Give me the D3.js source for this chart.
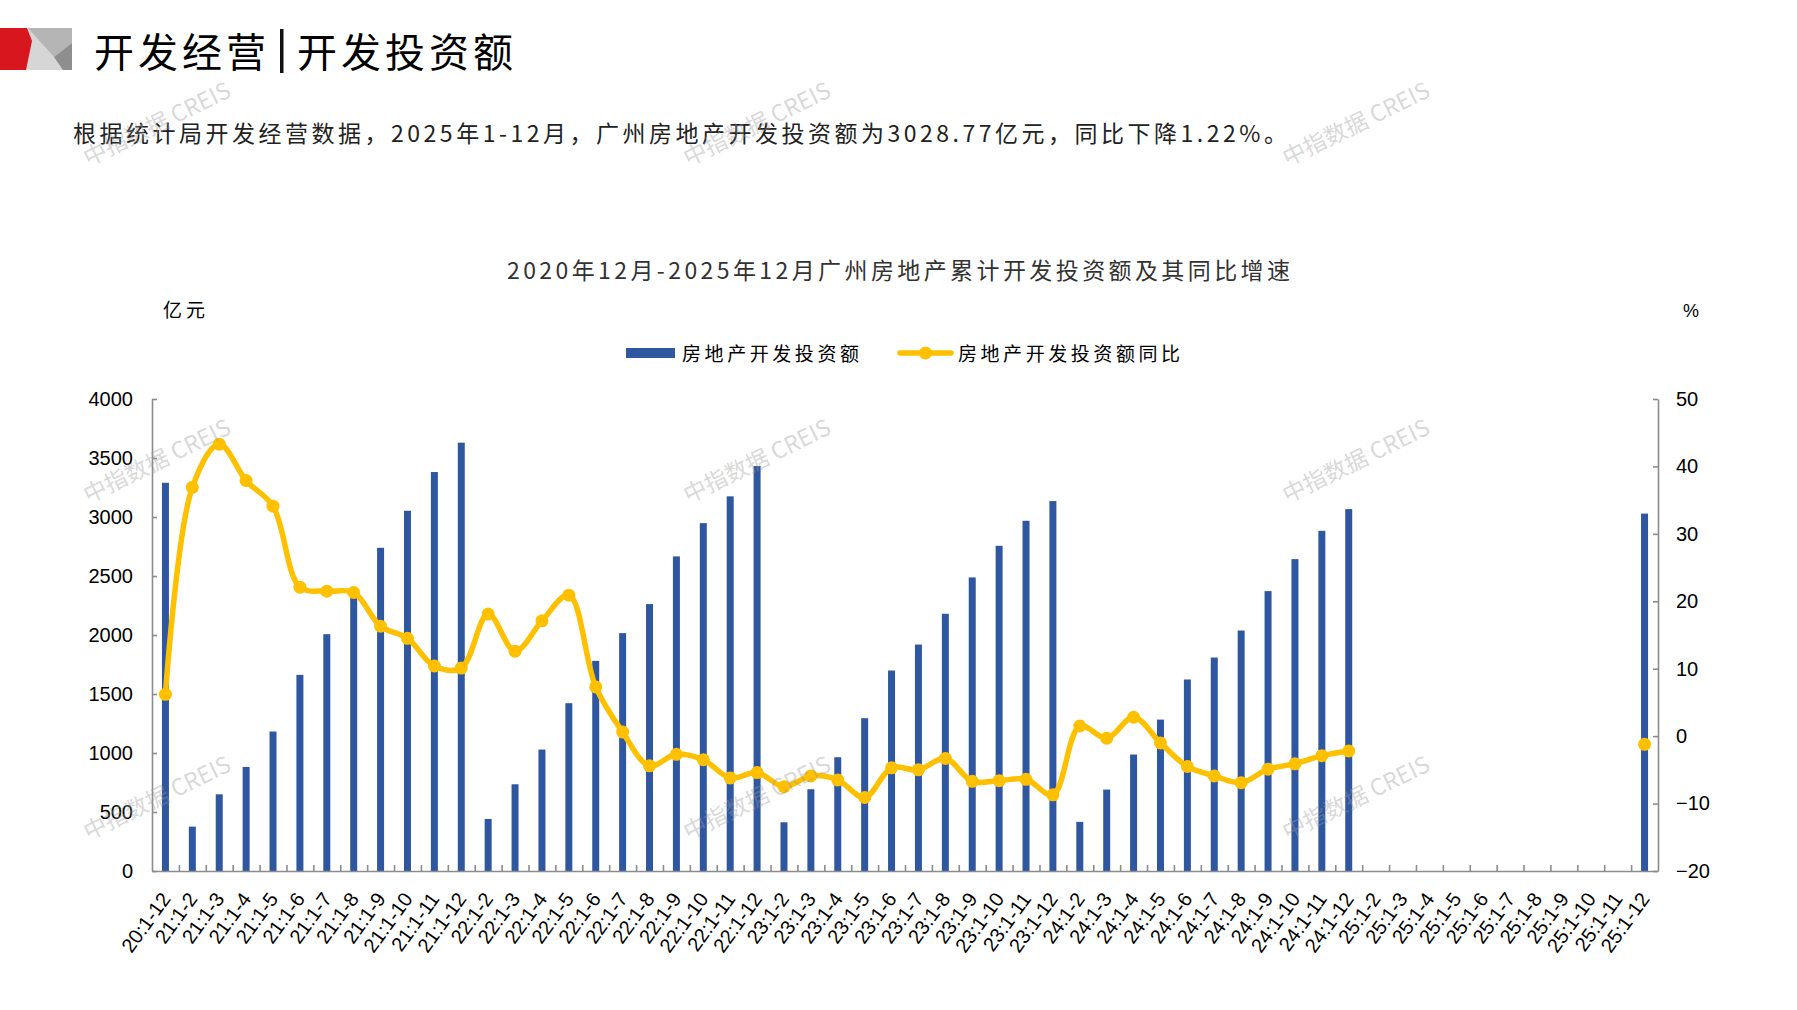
<!DOCTYPE html>
<html>
<head>
<meta charset="utf-8">
<script src="https://cdn.jsdelivr.net/npm/d3@7"></script>
<style>
  body { margin: 0; background: #fff; }
  svg { display: block; }
</style>
</head>
<body>
<main></main>
<script>
const w = 1797;
const h = 1010;
const plot = { left: 152, right: 1658, top: 399, bottom: 871 };

const categories = [
    "20:1-12",
    "21:1-2", "21:1-3", "21:1-4", "21:1-5", "21:1-6", "21:1-7", "21:1-8", "21:1-9", "21:1-10", "21:1-11", "21:1-12",
    "22:1-2", "22:1-3", "22:1-4", "22:1-5", "22:1-6", "22:1-7", "22:1-8", "22:1-9", "22:1-10", "22:1-11", "22:1-12",
    "23:1-2", "23:1-3", "23:1-4", "23:1-5", "23:1-6", "23:1-7", "23:1-8", "23:1-9", "23:1-10", "23:1-11", "23:1-12",
    "24:1-2", "24:1-3", "24:1-4", "24:1-5", "24:1-6", "24:1-7", "24:1-8", "24:1-9", "24:1-10", "24:1-11", "24:1-12",
    "25:1-2", "25:1-3", "25:1-4", "25:1-5", "25:1-6", "25:1-7", "25:1-8", "25:1-9", "25:1-10", "25:1-11", "25:1-12"
];

// 房地产开发投资额 (亿元)
const investment = [
    3290,
    376, 650, 882, 1182, 1662, 2007, 2330, 2739, 3053, 3381, 3630,
    441, 735, 1029, 1422, 1781, 2016, 2262, 2666, 2948, 3175, 3432,
    413, 693, 964, 1295, 1699, 1919, 2180, 2488, 2756, 2968, 3135,
    416, 690, 987, 1283, 1623, 1809, 2038, 2372, 2643, 2883, 3067,
    null, null, null, null, null, null, null, null, null, null, 3028.77
];

// 房地产开发投资额同比 (%)
const yoy = [
    6.2,
    36.9, 43.3, 37.9, 34.1, 22.1, 21.5, 21.3, 16.3, 14.5, 10.4, 10.1,
    18.1, 12.6, 17.1, 20.9, 7.3, 0.6, -4.4, -2.7, -3.5, -6.2, -5.4,
    -7.5, -5.9, -6.5, -9.1, -4.7, -5.0, -3.3, -6.7, -6.6, -6.4, -8.7,
    1.5, -0.3, 2.8, -1.0, -4.5, -5.9, -6.9, -4.9, -4.1, -2.9, -2.2,
    null, null, null, null, null, null, null, null, null, null, -1.22
];

const leftTicks = [0, 500, 1000, 1500, 2000, 2500, 3000, 3500, 4000];
const rightTicks = [-20, -10, 0, 10, 20, 30, 40, 50];

const blue = "#2f57a0";
const gold = "#ffc000";
const axisGray = "#8c8c8c";
const cjk = "'Noto Sans CJK SC', sans-serif";
const latin = "'Liberation Sans', Arial, sans-serif";

const svg = d3.select("main")
    .append("svg")
    .attr("width", w)
    .attr("height", h);

svg.append("rect").attr("width", w).attr("height", h).attr("fill", "#fff");

// header logo
const logo = svg.append("g");
logo.append("polygon").attr("points", "25,28 72,28 72,70 25,70").attr("fill", "#d6d6d6");
logo.append("polygon").attr("points", "28,28 72,28 72,43 54,57").attr("fill", "#b5b5b5");
logo.append("polygon").attr("points", "54,57 72,43 72,70 63,70").attr("fill", "#8e8e8e");
logo.append("polygon").attr("points", "0,28 27,28 32,41 26,70 0,70").attr("fill", "#d7161d");

svg.append("text")
    .attr("x", 94).attr("y", 67)
    .attr("font-family", cjk).attr("font-size", 40)
    .attr("textLength", 172).attr("lengthAdjust", "spacing")
    .text("开发经营");
svg.append("rect").attr("x", 280).attr("y", 29).attr("width", 3.5).attr("height", 44).attr("fill", "#111");
svg.append("text")
    .attr("x", 297).attr("y", 67)
    .attr("font-family", cjk).attr("font-size", 40)
    .attr("textLength", 216).attr("lengthAdjust", "spacing")
    .text("开发投资额");

svg.append("text")
    .attr("x", 73).attr("y", 142)
    .attr("font-family", cjk).attr("font-size", 23).attr("fill", "#222")
    .attr("textLength", 1214).attr("lengthAdjust", "spacing")
    .text("根据统计局开发经营数据，2025年1-12月，广州房地产开发投资额为3028.77亿元，同比下降1.22%。");

// chart title
svg.append("text")
    .attr("x", 507).attr("y", 279)
    .attr("font-family", cjk).attr("font-size", 23).attr("fill", "#333")
    .attr("textLength", 783).attr("lengthAdjust", "spacing")
    .text("2020年12月-2025年12月广州房地产累计开发投资额及其同比增速");

svg.append("text")
    .attr("x", 163).attr("y", 317)
    .attr("font-family", cjk).attr("font-size", 19)
    .attr("textLength", 42).attr("lengthAdjust", "spacing")
    .text("亿元");
svg.append("text")
    .attr("x", 1683).attr("y", 317)
    .attr("font-family", latin).attr("font-size", 18)
    .text("%");

// legend
svg.append("rect").attr("x", 626).attr("y", 348).attr("width", 49).attr("height", 10).attr("fill", blue);
svg.append("text")
    .attr("x", 682).attr("y", 361)
    .attr("font-family", cjk).attr("font-size", 19)
    .attr("textLength", 177).attr("lengthAdjust", "spacing")
    .text("房地产开发投资额");
svg.append("line")
    .attr("x1", 900).attr("x2", 951).attr("y1", 353).attr("y2", 353)
    .attr("stroke", gold).attr("stroke-width", 5.5).attr("stroke-linecap", "round");
svg.append("circle").attr("cx", 925.5).attr("cy", 353).attr("r", 6.5).attr("fill", gold);
svg.append("text")
    .attr("x", 958).attr("y", 361)
    .attr("font-family", cjk).attr("font-size", 19)
    .attr("textLength", 222).attr("lengthAdjust", "spacing")
    .text("房地产开发投资额同比");

// scales
const xScale = d3.scaleBand()
    .domain(categories)
    .range([plot.left, plot.right])
    .paddingInner(0.74)
    .paddingOuter(0.37);

const center = d => xScale(d) + xScale.bandwidth() / 2;

const yLeft = d3.scaleLinear().domain([0, 4000]).range([plot.bottom, plot.top]);
const yRight = d3.scaleLinear().domain([-20, 50]).range([plot.bottom, plot.top]);

// bars
svg.append("g")
    .selectAll("rect")
    .data(categories.map((c, i) => ({ c, v: investment[i] })).filter(d => d.v != null))
    .enter()
    .append("rect")
    .attr("x", d => xScale(d.c))
    .attr("y", d => yLeft(d.v))
    .attr("width", xScale.bandwidth())
    .attr("height", d => plot.bottom - yLeft(d.v))
    .attr("fill", blue);

// axes
const leftAxis = svg.append("g")
    .attr("transform", "translate(" + plot.left + ",0)")
    .call(d3.axisLeft(yLeft).tickValues(leftTicks).tickFormat(d3.format("d"))
        .tickSizeInner(-5).tickSizeOuter(0).tickPadding(19));

const rightAxis = svg.append("g")
    .attr("transform", "translate(" + plot.right + ",0)")
    .call(d3.axisRight(yRight).tickValues(rightTicks).tickSizeInner(-5).tickSizeOuter(0).tickPadding(18));

const boundary = d3.scaleLinear().domain([0, categories.length]).range([plot.left, plot.right]);
const bottomAxis = svg.append("g")
    .attr("transform", "translate(0," + plot.bottom + ")")
    .call(d3.axisBottom(boundary).tickValues(d3.range(1, categories.length)).tickSizeInner(-6).tickSizeOuter(0).tickFormat(""));

[leftAxis, rightAxis, bottomAxis].forEach(g => {
    g.selectAll("path, line").attr("stroke", axisGray).attr("stroke-width", 1.6);
    g.selectAll("text").attr("font-family", latin).attr("font-size", 20).attr("fill", "#000");
});

svg.append("g")
    .selectAll("text")
    .data(categories)
    .enter()
    .append("text")
    .attr("transform", d => "translate(" + (center(d) + 6) + "," + (plot.bottom + 28) + ") rotate(-54)")
    .attr("text-anchor", "end")
    .attr("font-family", latin)
    .attr("font-size", 20)
    .text(d => d);

// yoy line
const points = categories.map((c, i) => ({ c, v: yoy[i] }));
const line = d3.line()
    .defined(d => d.v != null)
    .x(d => center(d.c))
    .y(d => yRight(d.v))
    .curve(d3.curveCatmullRom.alpha(0.5));

svg.append("path")
    .datum(points)
    .attr("d", line)
    .attr("fill", "none")
    .attr("stroke", gold)
    .attr("stroke-width", 5.5)
    .attr("stroke-linejoin", "round");

svg.append("g")
    .selectAll("circle")
    .data(points.filter(d => d.v != null))
    .enter()
    .append("circle")
    .attr("cx", d => center(d.c))
    .attr("cy", d => yRight(d.v))
    .attr("r", 6.5)
    .attr("fill", gold);

// watermarks
const marks = [[157, 124], [757, 124], [1356, 124], [157, 461], [757, 461], [1356, 461], [157, 798], [757, 798], [1356, 798]];
svg.append("g")
    .selectAll("text")
    .data(marks)
    .enter()
    .append("text")
    .attr("transform", d => "translate(" + d[0] + "," + d[1] + ") rotate(-26)")
    .attr("text-anchor", "middle")
    .attr("dy", "0.35em")
    .attr("font-family", cjk)
    .attr("font-size", 23)
    .attr("fill", "#9a9a9a")
    .attr("fill-opacity", 0.4)
    .text("中指数据 CREIS");
</script>
</body>
</html>
